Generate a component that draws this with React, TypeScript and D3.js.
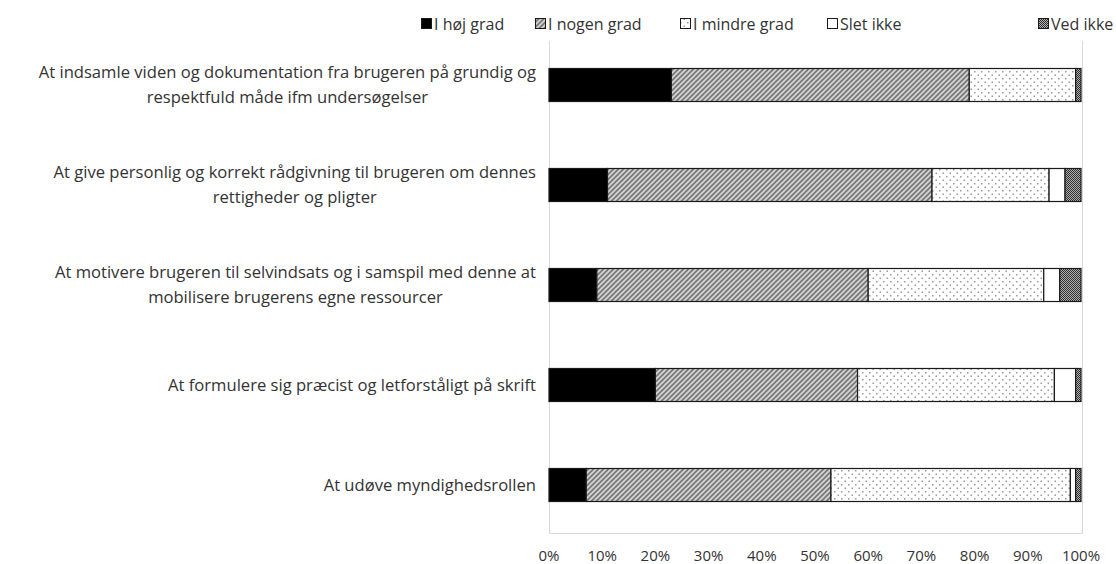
import React, { useEffect, useRef } from "react";
import * as d3 from "d3";

const categories = [
  "At indsamle viden og dokumentation fra brugeren på grundig og\nrespektfuld måde ifm undersøgelser",
  "At give personlig og korrekt rådgivning til brugeren om dennes\nrettigheder og pligter",
  "At motivere brugeren til selvindsats og i samspil med denne at\nmobilisere brugerens egne ressourcer",
  "At formulere sig præcist og letforståligt på skrift",
  "At udøve myndighedsrollen",
];
const seriesNames = ["I høj grad", "I nogen grad", "I mindre grad", "Slet ikke", "Ved ikke"];
const hojGrad = [23, 11, 9, 20, 7];
const nogenGrad = [56, 61, 51, 38, 46];
const mindreGrad = [20, 22, 33, 37, 45];
const sletIkke = [0, 3, 3, 4, 1];
const vedIkke = [1, 3, 4, 1, 1];
const tickValues = [0, 10, 20, 30, 40, 50, 60, 70, 80, 90, 100];

const W = 1116;
const H = 564;
const FONT = "'Open Sans', 'Noto Sans', sans-serif";
const TEXT = "#333333";
const fills = ["#000000", "url(#pHatch)", "url(#pDots)", "#ffffff", "url(#pCheck)"];
const legendX = [421, 535, 680, 827, 1038];

export default function App() {
  const ref = useRef<SVGSVGElement | null>(null);
  useEffect(() => {
    const svg = d3.select(ref.current);
    svg.selectAll("*").remove();

    const defs = svg.append("defs");
    const ph = defs.append("pattern").attr("id", "pHatch").attr("patternUnits", "userSpaceOnUse")
      .attr("width", 5).attr("height", 5);
    ph.append("rect").attr("width", 5).attr("height", 5).attr("fill", "#7a7a7a");
    ph.append("path").attr("d", "M-1,1 l2,-2 M0,5 l5,-5 M4,6 l2,-2").attr("stroke", "#d6d6d6").attr("stroke-width", 1.6);

    const pd = defs.append("pattern").attr("id", "pDots").attr("patternUnits", "userSpaceOnUse")
      .attr("width", 7).attr("height", 7);
    pd.append("rect").attr("width", 7).attr("height", 7).attr("fill", "#ffffff");
    pd.append("rect").attr("x", 1).attr("y", 1).attr("width", 1.5).attr("height", 1.5).attr("fill", "#9a9a9a");
    pd.append("rect").attr("x", 4.5).attr("y", 4.5).attr("width", 1.5).attr("height", 1.5).attr("fill", "#9a9a9a");

    const pc = defs.append("pattern").attr("id", "pCheck").attr("patternUnits", "userSpaceOnUse")
      .attr("width", 2).attr("height", 2);
    pc.append("rect").attr("width", 2).attr("height", 2).attr("fill", "#b0b0b0");
    pc.append("rect").attr("width", 1).attr("height", 1).attr("fill", "#303030");
    pc.append("rect").attr("x", 1).attr("y", 1).attr("width", 1).attr("height", 1).attr("fill", "#303030");

    const x = d3.scaleLinear().domain([0, 100]).range([549, 1081]);
    const y = d3.scaleBand<number>().domain(d3.range(categories.length)).range([35, 535]).paddingInner(0.67).paddingOuter(0.335);

    // axis frame
    const g = svg.append("g");
    g.append("line").attr("x1", 549.5).attr("x2", 549.5).attr("y1", 41).attr("y2", 533.5).attr("stroke", "#d9d9d9");
    g.append("line").attr("x1", 1082.5).attr("x2", 1082.5).attr("y1", 41).attr("y2", 533.5).attr("stroke", "#d9d9d9");
    g.append("line").attr("x1", 549.5).attr("x2", 1082.5).attr("y1", 533.5).attr("y2", 533.5).attr("stroke", "#d9d9d9");

    const series = [hojGrad, nogenGrad, mindreGrad, sletIkke, vedIkke];
    const rows = categories.map((_, i) => {
      const o: any = { i };
      series.forEach((s, k) => (o["s" + k] = s[i]));
      return o;
    });
    const stack = d3.stack<any>().keys(series.map((_, k) => "s" + k))(rows);

    stack.forEach((layer, k) => {
      svg.append("g").selectAll("rect").data(layer.filter((d) => d[1] - d[0] > 0)).join("rect")
        .attr("x", (d) => x(d[0]))
        .attr("width", (d) => x(d[1]) - x(d[0]))
        .attr("y", (d: any) => y(d.data.i)!)
        .attr("height", y.bandwidth())
        .attr("fill", fills[k])
        .attr("stroke", "#1a1a1a")
        .attr("stroke-width", 1.2);
    });

    // category labels
    const lab = svg.append("g").attr("font-family", FONT).attr("font-size", 16.6).attr("fill", TEXT);
    categories.forEach((c, i) => {
      const lines = c.split("\n");
      const cy = y(i)! + y.bandwidth() / 2;
      const lh = 25;
      const t = lab.append("text").attr("text-anchor", "middle");
      lines.forEach((ln, j) => {
        t.append("tspan").attr("x", 0).attr("y", cy + (j - (lines.length - 1) / 2) * lh).attr("dy", "0.35em").text(ln);
      });
      let maxW = 0;
      t.selectAll<SVGTSpanElement, unknown>("tspan").each(function () {
        maxW = Math.max(maxW, this.getComputedTextLength());
      });
      t.selectAll("tspan").attr("x", 536 - maxW / 2);
    });

    // x tick labels
    svg.append("g").attr("font-family", FONT).attr("font-size", 15).attr("fill", TEXT)
      .selectAll("text").data(tickValues).join("text")
      .attr("x", (d) => x(d)).attr("y", 561).attr("text-anchor", "middle").text((d) => d + "%");

    // legend
    const lg = svg.append("g").attr("font-family", FONT).attr("font-size", 16).attr("fill", TEXT);
    seriesNames.forEach((n, k) => {
      lg.append("rect").attr("x", legendX[k] + 0.5).attr("y", 18.5).attr("width", 10).attr("height", 10)
        .attr("fill", fills[k]).attr("stroke", "#1a1a1a");
      lg.append("text").attr("x", legendX[k] + 13).attr("y", 29.5).text(n);
    });
  }, []);

  return (
    <svg ref={ref} width={W} height={H} style={{ position: "absolute", left: 0, top: 0, background: "#fff" }} />
  );
}
